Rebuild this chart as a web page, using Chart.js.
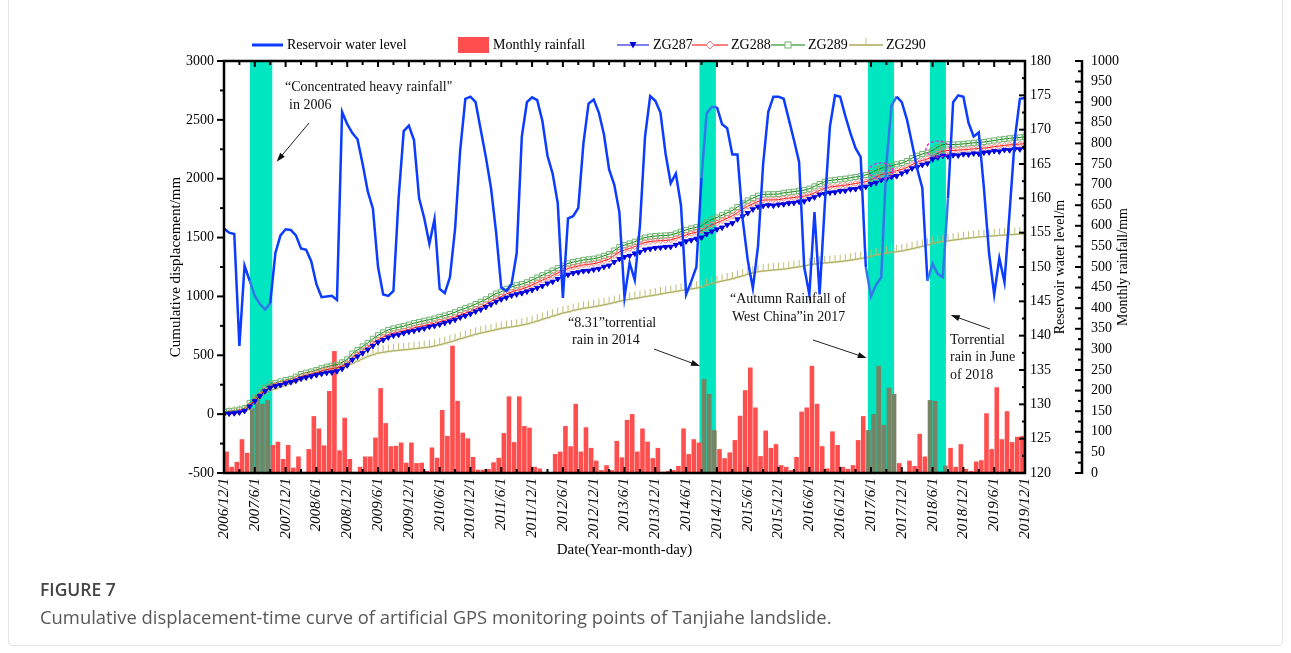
<!DOCTYPE html>
<html>
<head>
<meta charset="utf-8">
<script src="https://cdn.jsdelivr.net/npm/chart.js@4.4.1/dist/chart.umd.min.js"></script>
<style>
  html, body { margin: 0; padding: 0; background: #fff; }
  #wrap { position: relative; width: 1291px; height: 653px; overflow: hidden; }
  #card { position: absolute; left: 8px; top: -6px; width: 1275px; height: 652px; border: 1px solid #e4e4e4; border-radius: 4px; box-sizing: border-box; }
  #chart { position: absolute; left: 0; top: 0; }
  .cap { position: absolute; left: 40px; font-family: 'Open Sans', 'Noto Sans', sans-serif; white-space: nowrap; }
  #figno { top: 577px; font-size: 17.5px; font-weight: 600; color: #444; }
  #figtext { top: 604px; font-size: 18.4px; color: #585858; }
</style>
</head>
<body>
<div id="wrap">
  <div id="card"></div>
  <canvas id="chart" width="1291" height="653"></canvas>
  <div class="cap" id="figno">FIGURE 7</div>
  <div class="cap" id="figtext">Cumulative displacement-time curve of artificial GPS monitoring points of Tanjiahe landslide.</div>
</div>
<script>
const SERIF = "'Liberation Serif', 'Times New Roman', serif";

// x axis: one unit per month, 0 = 2006/12/1
const tickLabels = [
  '2006/12/1', '2007/6/1', '2007/12/1', '2008/6/1', '2008/12/1', '2009/6/1', '2009/12/1',
  '2010/6/1', '2010/12/1', '2011/6/1', '2011/12/1', '2012/6/1', '2012/12/1', '2013/6/1',
  '2013/12/1', '2014/6/1', '2014/12/1', '2015/6/1', '2015/12/1', '2016/6/1', '2016/12/1',
  '2017/6/1', '2017/12/1', '2018/6/1', '2018/12/1', '2019/6/1', '2019/12/1'
];

// reservoir water level (m), monthly from 2006/12
const reservoirLevel = [
  155.6, 155.0, 154.8, 138.5, 150.2, 148.0, 145.8, 144.6, 143.8, 144.7,
  152.0, 154.6, 155.5, 155.4, 154.6, 152.7, 152.5, 150.8, 147.5, 145.6,
  145.7, 145.8, 145.2, 172.6, 170.8, 169.5, 168.6, 165.0, 161.0, 158.5,
  150.0, 146.0, 145.8, 146.5, 160.0, 169.8, 170.6, 168.5, 160.0, 157.1,
  153.4, 157.0, 146.8, 146.2, 148.5, 155.5, 167.0, 174.5, 174.8, 174.0,
  170.0, 166.0, 161.5, 155.0, 147.0, 146.5, 147.5, 152.0, 169.0, 174.0,
  174.7, 174.3, 171.3, 166.2, 163.6, 159.3, 145.5, 157.1, 157.4, 158.6,
  168.0, 173.8, 174.4, 172.5, 169.3, 164.2, 162.0, 158.0, 145.6, 150.6,
  148.1, 156.0, 169.0, 174.9, 174.2, 172.5, 166.5, 162.2, 163.6, 159.0,
  146.0, 147.9, 150.0, 163.0, 172.4, 173.3, 173.3, 170.8, 170.2, 166.4,
  166.4, 157.0, 151.0, 146.9, 153.0, 165.0, 172.6, 174.8, 174.8, 174.5,
  171.5, 168.5, 165.3, 150.0, 146.0, 158.0, 146.0, 159.0, 170.4, 175.0,
  174.8, 172.0, 169.5, 167.3, 166.0, 150.0, 145.7, 147.4, 148.5, 165.0,
  173.5, 174.8, 174.0, 171.5, 168.0, 164.3, 161.5, 148.0, 150.5, 149.0,
  148.5, 160.0, 174.0, 175.0, 174.8, 171.0, 169.0, 169.6, 161.5, 152.0,
  146.0, 151.3, 147.8, 158.0, 168.5, 174.5, 174.6
];

// monthly rainfall (mm), one bar per month from 2006/12
const monthlyRainfall = [
  52, 15, 27, 82, 49, 157, 188, 168, 177, 68,
  76, 34, 68, 13, 40, 3, 58, 138, 108, 67,
  199, 296, 55, 134, 34, 3, 15, 40, 40, 86,
  206, 121, 65, 66, 74, 25, 74, 24, 25, 5,
  62, 37, 153, 90, 309, 175, 98, 84, 39, 8,
  8, 10, 26, 37, 97, 186, 75, 186, 114, 110,
  15, 11, 2, 2, 46, 52, 114, 65, 168, 52,
  111, 61, 30, 7, 19, 7, 78, 38, 129, 143,
  52, 108, 76, 36, 61, 3, 5, 7, 17, 108,
  46, 82, 74, 228, 192, 104, 58, 36, 50, 80,
  139, 201, 256, 159, 41, 103, 61, 70, 19, 15,
  7, 39, 149, 159, 260, 168, 65, 11, 101, 68,
  15, 10, 19, 80, 138, 104, 143, 260, 117, 207,
  192, 24, 3, 30, 17, 95, 40, 177, 175, 3,
  18, 61, 15, 70, 10, 5, 28, 31, 145, 58,
  208, 82, 150, 75, 88, 90
];

// cumulative displacement (mm) of the GPS points, monthly from 2006/12
const zg287 = [
  0, 5, 8, 15, 28, 65, 110, 155, 195, 225,
  238, 248, 262, 272, 285, 302, 312, 322, 332, 343,
  352, 355, 365, 385, 415, 462, 490, 518, 548, 580,
  610, 630, 652, 668, 675, 688, 700, 708, 720, 728,
  742, 750, 762, 775, 788, 802, 822, 835, 852, 872,
  888, 910, 932, 955, 975, 990, 1008, 1018, 1028, 1042,
  1055, 1072, 1088, 1110, 1125, 1148, 1165, 1185, 1198, 1205,
  1215, 1218, 1228, 1235, 1252, 1262, 1292, 1318, 1335, 1345,
  1365, 1378, 1398, 1405, 1412, 1415, 1420, 1422, 1438, 1450,
  1468, 1478, 1490, 1500, 1530, 1552, 1570, 1585, 1608, 1622,
  1655, 1680, 1708, 1740, 1762, 1770, 1775, 1772, 1780, 1783,
  1792, 1795, 1805, 1808, 1828, 1842, 1865, 1870, 1882, 1885,
  1895, 1898, 1910, 1912, 1925, 1932, 1955, 1965, 1990, 1995,
  2015, 2022, 2045, 2062, 2088, 2098, 2118, 2130, 2165, 2180,
  2195, 2190, 2200, 2198, 2208, 2206, 2215, 2213, 2222, 2225,
  2235, 2232, 2245, 2242, 2252, 2250, 2258
];
const zg288 = [
  5, 10, 15, 22, 35, 75, 120, 165, 205, 235,
  245, 258, 270, 282, 298, 318, 330, 340, 352, 366,
  378, 386, 392, 408, 432, 480, 510, 540, 568, 602,
  632, 656, 676, 688, 698, 708, 720, 733, 743, 752,
  762, 772, 785, 797, 809, 825, 843, 858, 873, 893,
  913, 933, 958, 982, 998, 1022, 1038, 1053, 1063, 1078,
  1098, 1118, 1138, 1158, 1178, 1198, 1218, 1238, 1250, 1258,
  1268, 1273, 1278, 1288, 1303, 1318, 1348, 1378, 1393, 1408,
  1423, 1443, 1458, 1466, 1471, 1474, 1476, 1480, 1493, 1508,
  1523, 1536, 1546, 1558, 1585, 1610, 1625, 1645, 1665, 1685,
  1712, 1742, 1767, 1787, 1807, 1818, 1820, 1820, 1822, 1830,
  1835, 1840, 1846, 1852, 1862, 1880, 1900, 1920, 1930, 1935,
  1940, 1945, 1952, 1960, 1967, 1975, 1992, 2015, 2035, 2045,
  2055, 2068, 2080, 2095, 2120, 2140, 2155, 2168, 2185, 2215,
  2235, 2240, 2240, 2243, 2246, 2250, 2254, 2257, 2260, 2265,
  2272, 2278, 2283, 2288, 2291, 2294, 2298
];
const zg289 = [
  20, 25, 30, 38, 50, 95, 140, 185, 225, 255,
  265, 278, 290, 300, 318, 340, 352, 362, 375, 390,
  403, 412, 420, 440, 465, 515, 545, 575, 605, 640,
  670, 695, 716, 728, 738, 748, 760, 773, 783, 793,
  802, 812, 825, 838, 850, 866, 885, 900, 915, 935,
  955, 975, 1000, 1025, 1040, 1065, 1080, 1095, 1105, 1120,
  1140, 1160, 1180, 1200, 1220, 1240, 1260, 1280, 1292, 1300,
  1310, 1315, 1320, 1330, 1345, 1360, 1390, 1420, 1435, 1450,
  1465, 1485, 1500, 1508, 1513, 1516, 1518, 1522, 1535, 1550,
  1565, 1578, 1588, 1600, 1630, 1655, 1670, 1690, 1710, 1730,
  1760, 1790, 1815, 1835, 1855, 1866, 1868, 1868, 1870, 1880,
  1885, 1890, 1897, 1903, 1915, 1935, 1955, 1975, 1985, 1990,
  1995, 2000, 2008, 2015, 2022, 2032, 2048, 2072, 2090, 2100,
  2110, 2122, 2133, 2150, 2175, 2195, 2210, 2222, 2240, 2270,
  2290, 2292, 2290, 2292, 2296, 2300, 2305, 2308, 2312, 2318,
  2325, 2332, 2338, 2343, 2347, 2351, 2355
];
const zg290 = [
  0, 5, 10, 15, 25, 45, 95, 140, 175, 200,
  215, 230, 245, 260, 275, 290, 305, 320, 335, 345,
  360, 375, 390, 400, 415, 430, 450, 470, 490, 505,
  518, 525, 532, 538, 542, 546, 550, 555, 560, 565,
  570, 578, 590, 600, 612, 625, 640, 652, 665, 678,
  688, 698, 708, 718, 728, 735, 742, 748, 756, 765,
  778, 790, 805, 818, 832, 845, 858, 868, 880, 890,
  898, 905, 912, 920, 928, 938, 948, 958, 968, 975,
  982, 990, 998, 1005, 1012, 1020, 1028, 1035, 1042, 1050,
  1058, 1064, 1070, 1080, 1095, 1110, 1120, 1130, 1140, 1150,
  1162, 1175, 1188, 1200, 1210, 1216, 1220, 1224, 1228, 1232,
  1238, 1245, 1252, 1260, 1268, 1275, 1280, 1284, 1288, 1292,
  1296, 1302, 1308, 1315, 1322, 1330, 1340, 1352, 1360, 1368,
  1375, 1380, 1386, 1395, 1405, 1415, 1425, 1435, 1450, 1460,
  1466, 1472, 1478, 1484, 1490, 1495, 1500, 1505, 1508, 1512,
  1515, 1518, 1521, 1524, 1527, 1530, 1533
];

// heavy-rain periods (in months from 2006/12)
const bandStart = [5.06, 92.6, 125.4, 137.5];
const bandEnd = [9.4, 95.8, 130.5, 140.6];

// callout texts and arrows, in axis units (month, displacement mm)
const noteText = ['\u201cConcentrated heavy rainfall"', 'in 2006', '\u201c8.31\u201dtorrential', 'rain in 2014',
  '\u201cAutumn Rainfall of', 'West China\u201din 2017', 'Torrential', 'rain in June', 'of 2018'];
const noteMonth = [11.88, 12.66, 67.0, 67.78, 98.55, 98.94, 141.39, 141.39, 141.39];
const noteValue = [2779, 2626, 774, 630, 978, 825, 630, 485, 333];
const arrowFrom = [[16.55, 2473], [83.74, 553], [114.71, 630], [149.18, 723]];
const arrowTo = [[10.26, 2145], [92.7, 409], [125.17, 477], [141.53, 842]];
const rings = [[127.96, 2066], [139.05, 2252]];

const inBand = (m) => bandStart.some((s, i) => m >= s && m <= bandEnd[i]);

const BLUE = 'rgb(12,60,255)';
const RED_BAR = 'rgb(255,78,78)';
const OLIVE_BAR = 'rgb(117,132,100)';
const TEAL = 'rgb(0,230,192)';

const months = (arr) => arr.map((y, i) => ({ x: i, y }));
const plain = (v) => String(v);

function stemMarker(color) {
  const c = document.createElement('canvas');
  c.width = 9; c.height = 16;
  const g = c.getContext('2d');
  g.strokeStyle = color; g.lineWidth = 1;
  g.beginPath();
  g.moveTo(4.5, 1); g.lineTo(4.5, 8);
  g.moveTo(1.5, 8); g.lineTo(7.5, 8);
  g.stroke();
  return c;
}
const stem = stemMarker('rgb(190,190,120)');

// shaded rain periods, under everything
const bandsPlugin = {
  id: 'bands',
  beforeDatasetsDraw(chart) {
    const { ctx, chartArea: a, scales: { x } } = chart;
    ctx.save();
    ctx.fillStyle = TEAL;
    bandStart.forEach((s, i) => {
      const x0 = x.getPixelForValue(s), x1 = x.getPixelForValue(bandEnd[i]);
      ctx.fillRect(x0, a.top, x1 - x0, a.bottom - a.top);
    });
    ctx.restore();
  }
};

function line(ctx, x0, y0, x1, y1) {
  ctx.beginPath(); ctx.moveTo(x0, y0); ctx.lineTo(x1, y1); ctx.stroke();
}

// frame, tick marks, callouts, right-hand titles and legend
const decorPlugin = {
  id: 'decor',
  afterDatasetsDraw(chart) {
    const { ctx, chartArea: a, scales } = chart;
    const { x, y, yRes, yRain } = scales;
    ctx.save();
    ctx.strokeStyle = '#000';
    ctx.lineWidth = 2.5;
    ctx.strokeRect(a.left, a.top, a.right - a.left, a.bottom - a.top);
    const rx = yRain.left;
    line(ctx, rx, a.top - 1, rx, a.bottom + 1);

    ctx.lineWidth = 2;
    for (let m = 0; m <= 156; m += 3) {
      const px = x.getPixelForValue(m);
      const len = m % 6 ? 4 : 6;
      line(ctx, px, a.bottom, px, a.bottom - len);
      line(ctx, px, a.top, px, a.top + len);
    }
    for (let v = -500; v <= 3000; v += 250) {
      const py = y.getPixelForValue(v);
      line(ctx, a.left - (v % 500 ? 4 : 7), py, a.left, py);
    }
    for (let v = 120; v <= 180; v += 2.5) {
      const py = yRes.getPixelForValue(v);
      line(ctx, a.right - (v % 5 ? 3 : 6), py, a.right, py);
    }
    for (let v = 0; v <= 1000; v += 25) {
      const py = yRain.getPixelForValue(v);
      line(ctx, rx - (v % 50 ? 4 : 7), py, rx, py);
    }

    // callouts
    ctx.fillStyle = '#111';
    ctx.font = '14px ' + SERIF;
    ctx.textAlign = 'left';
    ctx.textBaseline = 'middle';
    noteText.forEach((t, i) => {
      ctx.fillText(t, x.getPixelForValue(noteMonth[i]), y.getPixelForValue(noteValue[i]));
    });
    ctx.strokeStyle = '#222';
    ctx.fillStyle = '#111';
    ctx.lineWidth = 1;
    arrowFrom.forEach((f, i) => {
      const x0 = x.getPixelForValue(f[0]), y0 = y.getPixelForValue(f[1]);
      const x1 = x.getPixelForValue(arrowTo[i][0]), y1 = y.getPixelForValue(arrowTo[i][1]);
      const ang = Math.atan2(y1 - y0, x1 - x0);
      line(ctx, x0, y0, x1 - 6 * Math.cos(ang), y1 - 6 * Math.sin(ang));
      ctx.beginPath();
      ctx.moveTo(x1, y1);
      ctx.lineTo(x1 - 9 * Math.cos(ang) + 3 * Math.sin(ang), y1 - 9 * Math.sin(ang) - 3 * Math.cos(ang));
      ctx.lineTo(x1 - 9 * Math.cos(ang) - 3 * Math.sin(ang), y1 - 9 * Math.sin(ang) + 3 * Math.cos(ang));
      ctx.closePath();
      ctx.fill();
    });
    ctx.strokeStyle = 'rgb(225,40,225)';
    ctx.lineWidth = 1.3;
    ctx.setLineDash([3, 2]);
    rings.forEach(([m, v]) => {
      ctx.beginPath();
      ctx.ellipse(x.getPixelForValue(m), y.getPixelForValue(v), 12, 8, 0, 0, Math.PI * 2);
      ctx.stroke();
    });
    ctx.restore();
  },
  afterDraw(chart) {
    const { ctx, chartArea: a, scales: { yRes, yRain } } = chart;
    const midY = (a.top + a.bottom) / 2;
    ctx.save();
    ctx.fillStyle = '#000';
    ctx.font = '14px ' + SERIF;
    ctx.textAlign = 'center';
    ctx.textBaseline = 'middle';
    [[yRes.left + 35, 'Reservoir water level/m'], [yRain.left + 41, 'Monthly rainfall/mm']].forEach(([tx, t]) => {
      ctx.save();
      ctx.translate(tx, midY);
      ctx.rotate(-Math.PI / 2);
      ctx.fillText(t, 0, 0);
      ctx.restore();
    });

    // legend row
    const ly = 45;
    ctx.textAlign = 'left';
    ctx.strokeStyle = BLUE; ctx.lineWidth = 3;
    line(ctx, 252, ly, 283, ly);
    ctx.fillText('Reservoir water level', 287, ly);
    ctx.fillStyle = RED_BAR;
    ctx.fillRect(458, 37, 31, 16);
    ctx.fillStyle = '#000';
    ctx.fillText('Monthly rainfall', 493, ly);

    ctx.lineWidth = 1;
    ctx.strokeStyle = 'rgb(0,0,220)'; line(ctx, 617, ly, 649, ly);
    ctx.fillStyle = 'rgb(0,0,220)';
    ctx.beginPath(); ctx.moveTo(629.5, ly - 3); ctx.lineTo(636.5, ly - 3); ctx.lineTo(633, ly + 3.5); ctx.closePath(); ctx.fill();
    ctx.fillStyle = '#000'; ctx.fillText('ZG287', 653, ly);

    ctx.strokeStyle = 'rgb(255,0,0)'; line(ctx, 692, ly, 728, ly);
    ctx.fillStyle = '#fff'; ctx.strokeStyle = 'rgb(255,120,120)';
    ctx.beginPath(); ctx.moveTo(710, ly - 4); ctx.lineTo(714, ly); ctx.lineTo(710, ly + 4); ctx.lineTo(706, ly); ctx.closePath(); ctx.fill(); ctx.stroke();
    ctx.fillStyle = '#000'; ctx.fillText('ZG288', 731, ly);

    ctx.strokeStyle = 'rgb(0,128,0)'; line(ctx, 771, ly, 805, ly);
    ctx.fillStyle = '#fff'; ctx.strokeStyle = 'rgb(110,180,110)';
    ctx.fillRect(785, ly - 3, 6, 6); ctx.strokeRect(785, ly - 3, 6, 6);
    ctx.fillStyle = '#000'; ctx.fillText('ZG289', 808, ly);

    ctx.strokeStyle = 'rgb(128,128,0)'; line(ctx, 849, ly, 883, ly);
    ctx.drawImage(stem, 866 - 4.5, ly - 8);
    ctx.fillStyle = '#000'; ctx.fillText('ZG290', 886, ly);
    ctx.restore();
  }
};

const pointSeries = (label, data, color, markerColor, style, fill, radius, rotation) => ({
  type: 'line',
  label,
  data: months(data),
  yAxisID: 'y',
  borderColor: color,
  borderWidth: 1,
  pointStyle: style,
  pointRadius: radius,
  pointRotation: rotation || 0,
  pointBorderColor: markerColor,
  pointBackgroundColor: fill,
  pointBorderWidth: 1,
  order: 2
});

new Chart(document.getElementById('chart'), {
  type: 'bar',
  data: {
    datasets: [
      {
        type: 'line',
        label: 'Reservoir water level',
        data: months(reservoirLevel),
        yAxisID: 'yRes',
        borderColor: BLUE,
        borderWidth: 2.5,
        pointRadius: 0,
        segment: {
          borderColor: (c) => inBand((c.p0.parsed.x + c.p1.parsed.x) / 2) ? 'rgb(50,120,235)' : undefined
        },
        order: 1
      },
      pointSeries('ZG287', zg287, 'rgb(0,0,220)', 'rgb(0,0,220)', 'triangle', 'rgb(0,0,220)', 3, 180),
      pointSeries('ZG288', zg288, 'rgb(255,0,0)', 'rgb(255,120,120)', 'rectRot', 'rgba(0,0,0,0)', 3),
      pointSeries('ZG289', zg289, 'rgb(0,128,0)', 'rgb(110,180,110)', 'rect', 'rgba(0,0,0,0)', 3.6),
      pointSeries('ZG290', zg290, 'rgb(150,150,60)', 'rgb(190,190,120)', stem, 'rgba(0,0,0,0)', 4),
      {
        type: 'bar',
        label: 'Monthly rainfall',
        data: monthlyRainfall.map((r, i) => ({ x: i + 0.5, y: r })),
        yAxisID: 'yRain',
        backgroundColor: (c) => inBand(c.dataIndex + 0.5) ? OLIVE_BAR : RED_BAR,
        borderWidth: 0,
        barPercentage: 0.9,
        categoryPercentage: 1,
        order: 5
      }
    ]
  },
  options: {
    responsive: false,
    animation: false,
    events: [],
    layout: { padding: { left: 160, right: 149, top: 61, bottom: 90 } },
    plugins: { legend: { display: false }, tooltip: { enabled: false } },
    scales: {
      x: {
        type: 'linear',
        min: 0,
        max: 156,
        offset: false,
        grid: { display: false, drawTicks: false, offset: false },
        border: { display: false },
        ticks: {
          stepSize: 6,
          autoSkip: false,
          minRotation: 90,
          maxRotation: 90,
          padding: 5,
          color: '#000',
          font: { family: SERIF, size: 15, style: 'italic' },
          callback: (v) => tickLabels[v / 6]
        },
        title: {
          display: true,
          text: 'Date(Year-month-day)',
          color: '#000',
          font: { family: SERIF, size: 15 },
          padding: { top: 4, bottom: 4 }
        },
        afterFit: (s) => { s.height = 90; }
      },
      y: {
        position: 'left',
        min: -500,
        max: 3000,
        grid: { display: false, drawTicks: false },
        border: { display: false },
        ticks: { stepSize: 500, padding: 10, color: '#000', font: { family: SERIF, size: 14 }, callback: plain },
        title: {
          display: true,
          text: 'Cumulative displacement/mm',
          color: '#000',
          font: { family: SERIF, size: 15 },
          padding: { top: 7, bottom: 4 }
        },
        afterFit: (s) => { s.width = 64; }
      },
      yRes: {
        position: 'right',
        min: 120,
        max: 180,
        grid: { display: false, drawTicks: false },
        border: { display: false },
        ticks: { stepSize: 5, autoSkip: false, padding: 5, color: '#000', font: { family: SERIF, size: 14 }, callback: plain },
        afterFit: (s) => { s.width = 57; }
      },
      yRain: {
        position: 'right',
        min: 0,
        max: 1000,
        grid: { display: false, drawTicks: false },
        border: { display: false },
        ticks: { stepSize: 50, autoSkip: false, padding: 9, color: '#000', font: { family: SERIF, size: 14 }, callback: plain },
        afterFit: (s) => { s.width = 60; }
      }
    }
  },
  plugins: [bandsPlugin, decorPlugin]
});
</script>
</body>
</html>
